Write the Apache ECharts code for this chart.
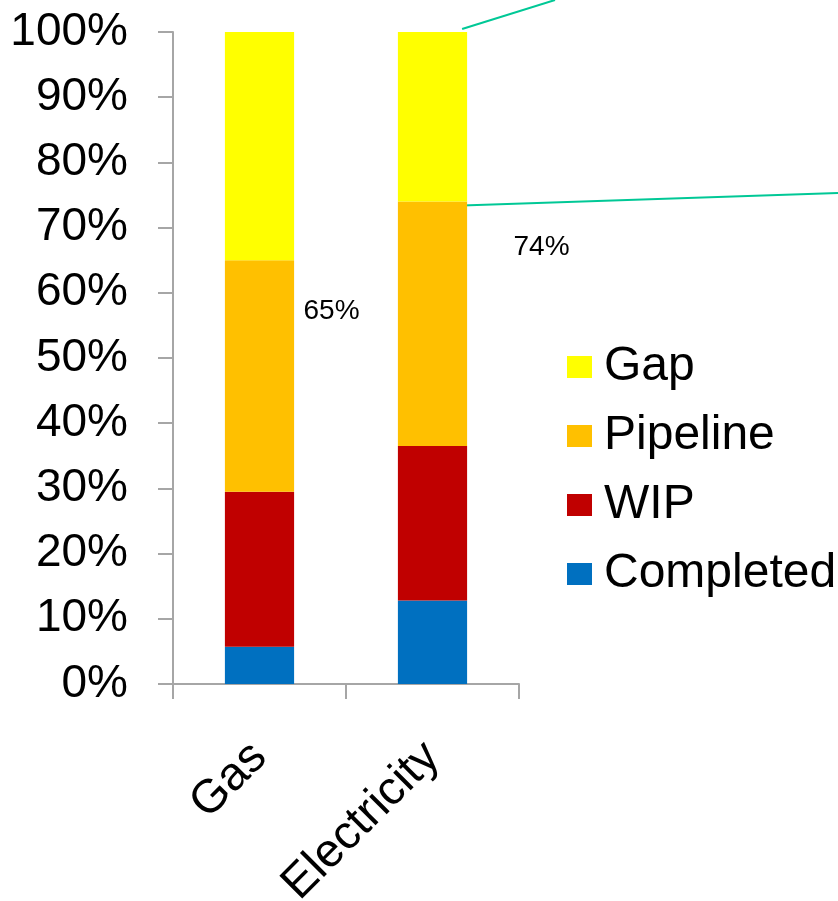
<!DOCTYPE html>
<html>
<head>
<meta charset="utf-8">
<script src="https://cdn.jsdelivr.net/npm/echarts@6/dist/echarts.min.js"></script>
<style>
html,body{margin:0;padding:0;background:#fff;}
#chart{width:838px;height:901px;}
</style>
</head>
<body>
<div id="chart"></div>
<script>
const categories = ['Gas', 'Electricity'];
const completed = [5.7, 12.8];
const wip = [23.8, 23.7];
const pipeline = [35.5, 37.5];
const gap = [35.0, 26.0];
const yTicks = [0, 10, 20, 30, 40, 50, 60, 70, 80, 90, 100];
const totalLabels = ['65%', '74%'];

const font = '"Liberation Sans", Arial, sans-serif';
const axisGray = '#A6A6A6';

const chart = echarts.init(document.getElementById('chart'));

function bar(name, data, color) {
  return {
    name, type: 'bar', stack: 'total', data,
    barWidth: '40%',
    itemStyle: { color },
    emphasis: { disabled: true },
    animation: false
  };
}

const option = {
  backgroundColor: '#fff',
  animation: false,
  grid: { left: 173, right: 319, top: 32, bottom: 217, containLabel: false, outerBoundsMode: 'none' },
  legend: {
    orient: 'vertical',
    left: 562, top: 338,
    itemWidth: 25, itemHeight: 22, itemGap: 21,
    icon: 'rect',
    data: ['Gap', 'Pipeline', 'WIP', 'Completed'],
    textStyle: { fontFamily: font, fontSize: 48, color: '#000', lineHeight: 48, padding: [0, 0, 0, 7] },
    selectedMode: false
  },
  xAxis: {
    type: 'category',
    data: categories,
    axisLine: { lineStyle: { color: axisGray, width: 2 } },
    axisTick: { show: true, length: 15, lineStyle: { color: axisGray, width: 2 } },
    axisLabel: { rotate: 45, fontFamily: font, fontSize: 47, color: '#000', margin: 66 }
  },
  yAxis: {
    type: 'value',
    min: 0, max: 100, interval: 10,
    axisLine: { show: true, lineStyle: { color: axisGray, width: 2 } },
    axisTick: { show: true, length: 15, lineStyle: { color: axisGray, width: 2 } },
    splitLine: { show: false },
    axisLabel: { fontFamily: font, fontSize: 46, color: '#000', margin: 45,
      formatter: v => yTicks.includes(v) ? v + '%' : '' }
  },
  series: [
    bar('Completed', completed, '#0070C0'),
    bar('WIP', wip, '#C00000'),
    bar('Pipeline', pipeline, '#FFC000'),
    bar('Gap', gap, '#FFFF00')
  ]
};
chart.setOption(option);

// annotations: cumulative tops computed from data
const tops = categories.map((c, i) => completed[i] + wip[i] + pipeline[i]);
const elecTopRight = chart.convertToPixel({ gridIndex: 0 }, [1, 100]);
const elecPipeRight = chart.convertToPixel({ gridIndex: 0 }, [1, tops[1]]);
const halfBar = 173 * 0.4 / 2;
const gasLbl = chart.convertToPixel({ gridIndex: 0 }, [0, tops[0]]);
const elecLbl = chart.convertToPixel({ gridIndex: 0 }, [1, tops[1]]);

chart.setOption({
  graphic: [
    { type: 'line', shape: { x1: elecTopRight[0] + halfBar - 5, y1: elecTopRight[1] - 3, x2: 555, y2: 0 },
      style: { stroke: '#00C896', lineWidth: 2 } },
    { type: 'line', shape: { x1: elecPipeRight[0] + halfBar - 5, y1: elecPipeRight[1] + 4, x2: 838, y2: 193 },
      style: { stroke: '#00C896', lineWidth: 2 } },
    { type: 'text', x: gasLbl[0] + 44, y: gasLbl[1] + 51,
      style: { text: totalLabels[0], font: '28px ' + font, fill: '#000', textVerticalAlign: 'middle' } },
    { type: 'text', x: elecLbl[0] + 81, y: elecLbl[1] + 46,
      style: { text: totalLabels[1], font: '28px ' + font, fill: '#000', textVerticalAlign: 'middle' } }
  ]
});
</script>
</body>
</html>
